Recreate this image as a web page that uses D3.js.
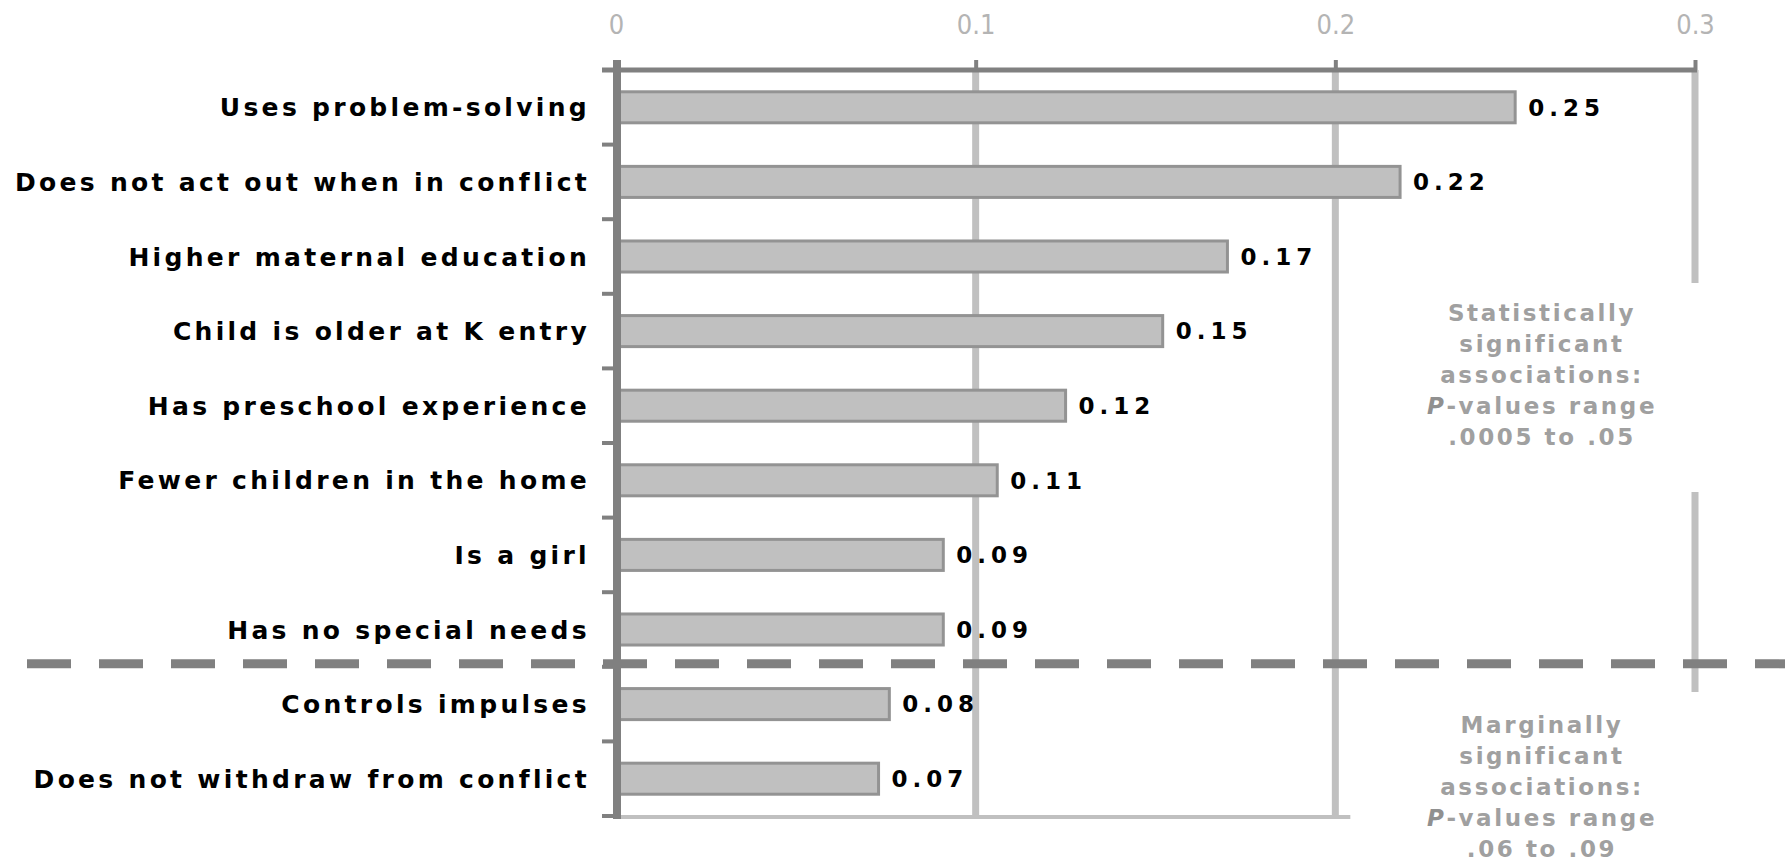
<!DOCTYPE html>
<html>
<head>
<meta charset="utf-8">
<script src="https://cdn.jsdelivr.net/npm/d3@7"></script>
<style>
  html, body { margin: 0; padding: 0; background: #fff; }
  svg { display: block; }
</style>
</head>
<body>
<svg id="chart" width="1785" height="861"></svg>
<script>
// ---- data ----
const categories = [
  "Uses problem-solving",
  "Does not act out when in conflict",
  "Higher maternal education",
  "Child is older at K entry",
  "Has preschool experience",
  "Fewer children in the home",
  "Is a girl",
  "Has no special needs",
  "Controls impulses",
  "Does not withdraw from conflict"
];
const values = [0.25, 0.218, 0.17, 0.152, 0.125, 0.106, 0.091, 0.091, 0.076, 0.073];
const valueLabels = ["0.25", "0.22", "0.17", "0.15", "0.12", "0.11", "0.09", "0.09", "0.08", "0.07"];
const tickValues = [0, 0.1, 0.2, 0.3];
const tickLabels = ["0", "0.1", "0.2", "0.3"];
const significantCount = 8;
const noteSignificant = ["Statistically", "significant", "associations:", ["P", "-values range"], ".0005 to .05"];
const noteMarginal = ["Marginally", "significant", "associations:", ["P", "-values range"], ".06 to .09"];

// ---- layout ----
const svg = d3.select("#chart");
const x = d3.scaleLinear().domain([0, 0.3]).range([616, 1695]);
const pad = 0.584;
const y = d3.scaleBand().domain(categories).range([70, 816]).paddingInner(pad).paddingOuter(pad / 2);
const step = y.step();
const yTop = y.range()[0], yBottom = y.range()[1];

const axisColor = "#808080";
const gridColor = "#c0c0c0";

// gridlines
const grid = svg.append("g");
grid.selectAll("line.g").data([0.1, 0.2]).join("line")
  .attr("x1", d => x(d)).attr("x2", d => x(d))
  .attr("y1", yTop).attr("y2", yBottom + 2)
  .attr("stroke", gridColor).attr("stroke-width", 7);
// 0.3 gridline broken around annotation
grid.selectAll("line.g3").data([[yTop, 283], [492, 692]]).join("line")
  .attr("x1", x(0.3)).attr("x2", x(0.3))
  .attr("y1", d => d[0]).attr("y2", d => d[1])
  .attr("stroke", gridColor).attr("stroke-width", 7);
// bottom baseline
grid.append("line")
  .attr("x1", x(0)).attr("x2", x(0.2) + 15)
  .attr("y1", yBottom + 1).attr("y2", yBottom + 1)
  .attr("stroke", gridColor).attr("stroke-width", 4);

// bars
svg.append("g").selectAll("rect").data(categories).join("rect")
  .attr("x", x(0))
  .attr("y", d => y(d))
  .attr("width", (d, i) => x(values[i]) - x(0))
  .attr("height", y.bandwidth())
  .attr("fill", "#c0c0c0")
  .attr("stroke", "#939393")
  .attr("stroke-width", 3);

// value labels
svg.append("g").selectAll("text").data(categories).join("text")
  .attr("x", (d, i) => x(values[i]) + 13)
  .attr("y", d => y(d) + y.bandwidth() / 2)
  .attr("dy", "0.36em")
  .attr("font-family", "DejaVu Sans")
  .attr("font-weight", "bold")
  .attr("font-size", 23)
  .attr("letter-spacing", 5)
  .attr("fill", "#000")
  .text((d, i) => valueLabels[i]);

// category labels
svg.append("g").selectAll("text").data(categories).join("text")
  .attr("x", 587 + 3)
  .attr("y", d => y(d) + y.bandwidth() / 2)
  .attr("dy", "0.36em")
  .attr("text-anchor", "end")
  .attr("font-family", "DejaVu Sans")
  .attr("font-weight", "bold")
  .attr("font-size", 25)
  .attr("letter-spacing", 3.3)
  .attr("fill", "#000")
  .text(d => d);

// top axis
const xAxis = d3.axisTop(x).tickValues(tickValues).tickSize(10).tickSizeOuter(0)
  .tickFormat((d, i) => tickLabels[i]).tickPadding(26);
const gx = svg.append("g").attr("transform", `translate(0,${yTop})`).call(xAxis);
gx.select(".domain").remove();
gx.selectAll(".tick line").attr("stroke", axisColor).attr("stroke-width", 4);
gx.selectAll(".tick text")
  .style("font-family", "'Liberation Sans Narrow', 'DejaVu Sans Condensed', sans-serif")
  .style("font-size", "27px")
  .style("fill", "#b4b4b4");
svg.append("line")
  .attr("x1", 602).attr("x2", x(0.3) + 2)
  .attr("y1", yTop).attr("y2", yTop)
  .attr("stroke", axisColor).attr("stroke-width", 5);

// left axis
const boundaries = d3.range(categories.length + 1).map(k => yTop + k * step);
svg.append("g").selectAll("line").data(boundaries).join("line")
  .attr("x1", 602).attr("x2", x(0))
  .attr("y1", d => d).attr("y2", d => d)
  .attr("stroke", axisColor).attr("stroke-width", 4);
svg.append("line")
  .attr("x1", x(0) + 1).attr("x2", x(0) + 1)
  .attr("y1", yTop - 10).attr("y2", yBottom + 3)
  .attr("stroke", axisColor).attr("stroke-width", 8);

// dashed separator between significant and marginal
const sepY = yTop + significantCount * step - 3;
svg.append("line")
  .attr("x1", 27).attr("x2", 1785)
  .attr("y1", sepY).attr("y2", sepY)
  .attr("stroke", axisColor).attr("stroke-width", 9)
  .attr("stroke-dasharray", "44,28");

// annotations
function note(lines, cy) {
  const t = svg.append("text")
    .attr("text-anchor", "middle")
    .attr("font-family", "DejaVu Sans")
    .attr("font-weight", "bold")
    .attr("font-size", 23)
    .attr("letter-spacing", 2.6)
    .attr("fill", "#a0a0a0");
  lines.forEach((ln, i) => {
    const ts = t.append("tspan").attr("x", 1541 + 1).attr("y", cy + i * 31).attr("dy", "0.36em");
    if (Array.isArray(ln)) {
      ts.append("tspan").attr("font-style", "italic").attr("fill", "#909090").text(ln[0]);
      ts.append("tspan").text(ln[1]);
    } else {
      ts.text(ln);
    }
  });
}
note(noteSignificant, 313);
note(noteMarginal, 725);
</script>
</body>
</html>
